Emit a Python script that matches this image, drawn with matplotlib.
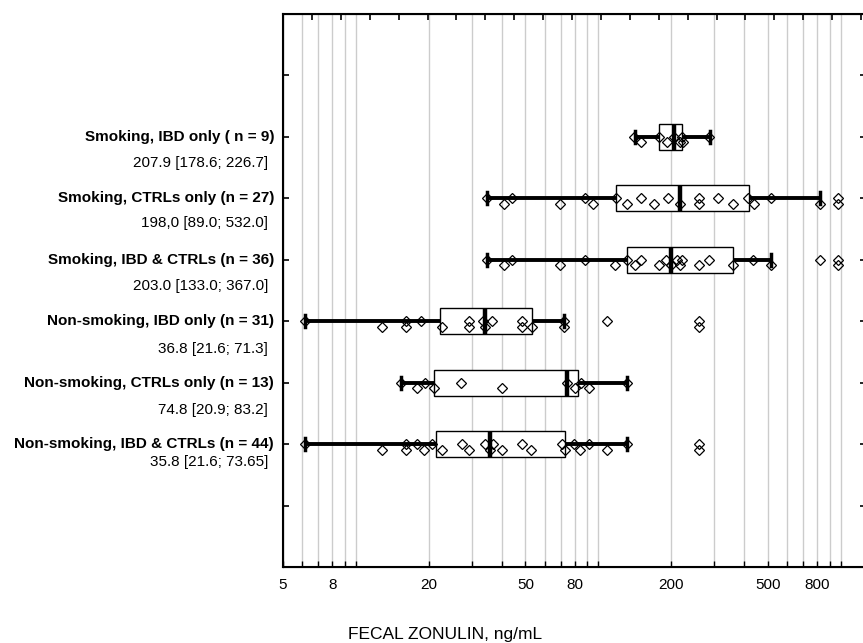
import numpy as np
import matplotlib
matplotlib.use('Agg')
import matplotlib.pyplot as plt
from matplotlib.ticker import FixedLocator, FixedFormatter, NullLocator

matplotlib.rcParams['font.family'] = ['Liberation Sans', 'DejaVu Sans']

# groups, top to bottom
groupNames = ['Smoking, IBD only ( n = 9)',
              'Smoking, CTRLs only (n = 27)',
              'Smoking, IBD & CTRLs (n = 36)',
              'Non-smoking, IBD only (n = 31)',
              'Non-smoking, CTRLs only (n = 13)',
              'Non-smoking, IBD & CTRLs (n = 44)']
groupSummary = ['207.9 [178.6; 226.7]',
                '198,0 [89.0; 532.0]',
                '203.0 [133.0; 367.0]',
                '36.8 [21.6; 71.3]',
                '74.8 [20.9; 83.2]',
                '35.8 [21.6; 73.65]']

# box plot values (ng/mL)
boxQ1 = [177.6, 118, 131, 22.3, 20.9, 21.4]
boxMed = [205, 217, 200, 34.2, 74.2, 35.7]
boxQ3 = [221, 418, 358, 53, 82.3, 73.1]
whiskerLow = [141, 34.7, 34.7, 6.16, 15.3, 6.16]
whiskerHigh = [288, 819, 516, 72.1, 131, 131]

# raw points
smokeIbd = [140, 150, 177, 192, 205, 217, 220, 223, 286]
smokeCtrl = [34.7, 40.8, 44, 69.4, 88, 95, 118, 131, 150, 169, 193, 217,
             259, 259, 311, 358, 412, 436, 516, 819, 972, 972]
smokeAll = [34.7, 40.8, 44, 69.4, 88, 117, 131, 141, 150, 177, 190, 200,
            211, 217, 222, 259, 286, 358, 432, 516, 819, 972, 972]
nonSmokeIbd = [6.16, 12.8, 16.1, 16.1, 18.5, 22.6, 29.2, 29.2, 33.3, 34.2,
               36.4, 48.2, 48.2, 53, 72.1, 72.1, 108, 260, 260]
nonSmokeCtrl = [15.3, 17.8, 19.2, 21, 27.2, 40.1, 74, 79.8, 84.7, 91, 131]
nonSmokeAll = [6.16, 12.8, 16.1, 16.1, 17.8, 19.0, 20.5, 22.6, 27.4, 29.2,
               33.9, 35.7, 36.6, 40.1, 48.2, 52.6, 70.6, 73, 79, 84, 91,
               108, 131, 260, 260]
allPoints = [smokeIbd, smokeCtrl, smokeAll, nonSmokeIbd, nonSmokeCtrl, nonSmokeAll]

gridValues = [6, 7, 8, 9, 10, 20, 30, 40, 50, 60, 70, 80, 90, 100,
              200, 300, 400, 500, 600, 700, 800, 900, 1000]
labelValues = [5, 8, 20, 50, 80, 200, 500, 800]

rowPos = [2, 3, 4, 5, 6, 7]
summaryOffset = [19, 18, 19, 20, 20, 13]

fig = plt.figure(figsize=(8.63, 6.43), dpi=100)
ax = fig.add_axes([283 / 863, 76 / 643, 583 / 863, 553 / 643])
ax.set_xscale('log')
ax.set_xlim(5, 1268)
ax.set_ylim(9, 0)

stats = []
for i in range(len(groupNames)):
    stats.append(dict(med=boxMed[i], q1=boxQ1[i], q3=boxQ3[i],
                      whislo=whiskerLow[i], whishi=whiskerHigh[i], fliers=[]))
ax.bxp(stats, positions=rowPos, orientation='horizontal', widths=0.42,
       showfliers=False, patch_artist=True, capwidths=0.2,
       boxprops=dict(facecolor='white', edgecolor='black', linewidth=1.0),
       whiskerprops=dict(color='black', linewidth=2.8, solid_capstyle='butt'),
       capprops=dict(color='black', linewidth=2.5),
       medianprops=dict(color='black', linewidth=3.2, solid_capstyle='butt'))

for i, pts in enumerate(allPoints):
    dy = np.where(np.arange(len(pts)) % 2 == 0, 0.0, 0.09)
    ax.plot(pts, rowPos[i] + dy, linestyle='none', marker='D', ms=5.5,
            mfc='none', mec='black', mew=0.9, zorder=5)

ax.xaxis.set_major_locator(FixedLocator([5] + gridValues))
ax.xaxis.set_major_formatter(FixedFormatter(
    [str(v) if v in labelValues else '' for v in [5] + gridValues]))
ax.xaxis.set_minor_locator(NullLocator())
ax.tick_params(axis='x', direction='in', length=4, width=1, labelsize=11, pad=8)
ax.grid(axis='x', color='#cccccc', linewidth=1)
ax.set_axisbelow(True)

ax.set_yticks(range(1, 9))
ax.set_yticklabels([])
ax.tick_params(axis='y', direction='in', length=4, width=1.2, left=True, right=True)
for s in ax.spines.values():
    s.set_linewidth(1.5)

top = ax.twiny()
top.set_xlim(0, 583 / 28.9)
top.set_xticks(np.arange(1, 21))
top.set_xticklabels([])
top.tick_params(axis='x', direction='in', length=4, width=1.2)

trans = (fig.transFigure, ax.transData)
for i, name in enumerate(groupNames):
    ax.annotate(name, xy=(274 / 863, rowPos[i]), xycoords=trans,
                ha='right', va='center', fontsize=11, fontweight='bold')
    ax.annotate(groupSummary[i], xy=(268 / 863, rowPos[i]), xycoords=trans,
                xytext=(0, -summaryOffset[i]), textcoords='offset points',
                ha='right', va='center', fontsize=11)

fig.text(445 / 863, 1 - 634 / 643, 'FECAL ZONULIN, ng/mL', ha='center',
         va='center', fontsize=12.5)

plt.savefig('out.png', dpi=100)
